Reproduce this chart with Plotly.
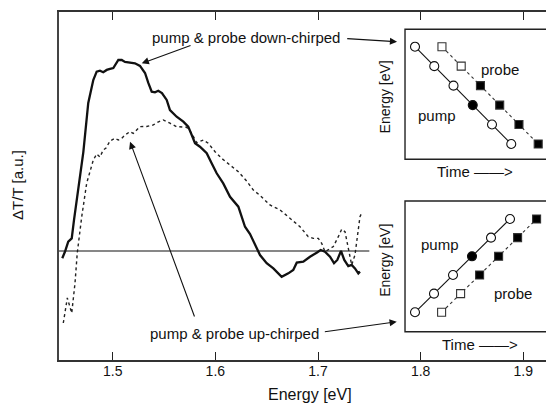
import plotly.graph_objects as go

# ---- main spectra (Energy [eV], dT/T [a.u.]) ----
down_E = [1.4509, 1.4535, 1.4567, 1.4601, 1.4623, 1.4649, 1.4681, 1.4714, 1.4762, 1.4811,
          1.4844, 1.4876, 1.4908, 1.4942, 1.4974, 1.5006, 1.5055, 1.5088, 1.5120, 1.5169,
          1.5217, 1.5266, 1.5315, 1.5347, 1.5380, 1.5412, 1.5444, 1.5480, 1.5526, 1.5558,
          1.5623, 1.5688, 1.5736, 1.5770, 1.5802, 1.5850, 1.5916, 1.5964, 1.6013, 1.6077,
          1.6143, 1.6224, 1.6289, 1.6338, 1.6386, 1.6435, 1.6500, 1.6565, 1.6646, 1.6711,
          1.6759, 1.6793, 1.6857, 1.6922, 1.6987, 1.7026, 1.7068, 1.7117, 1.7156, 1.7188,
          1.7224, 1.7256, 1.7295, 1.7328, 1.7360, 1.7393, 1.7409]
down_dT = [-0.038, -0.004, 0.049, 0.066, 0.162, 0.267, 0.372, 0.518, 0.775, 0.895,
           0.939, 0.944, 0.936, 0.948, 0.953, 0.958, 1.000, 1.000, 0.990, 0.986,
           0.983, 0.969, 0.932, 0.880, 0.834, 0.831, 0.839, 0.827, 0.791, 0.738,
           0.703, 0.677, 0.651, 0.607, 0.564, 0.546, 0.512, 0.459, 0.407, 0.354,
           0.284, 0.232, 0.127, 0.089, 0.031, -0.021, -0.064, -0.091, -0.135, -0.117,
           -0.099, -0.061, -0.056, -0.030, -0.009, 0.005, -0.004, -0.030, -0.064, -0.047,
           0.000, -0.047, -0.079, -0.073, -0.091, -0.117, -0.108]

up_E = [1.4519, 1.4558, 1.4601, 1.4633, 1.4655, 1.4698, 1.4747, 1.4811, 1.4844, 1.4876,
        1.4908, 1.4935, 1.4974, 1.5022, 1.5055, 1.5088, 1.5120, 1.5169, 1.5201, 1.5234,
        1.5266, 1.5331, 1.5396, 1.5441, 1.5493, 1.5558, 1.5623, 1.5721, 1.5770, 1.5818,
        1.5883, 1.5931, 1.5997, 1.6062, 1.6143, 1.6224, 1.6305, 1.6370, 1.6435, 1.6532,
        1.6630, 1.6727, 1.6825, 1.6905, 1.6954, 1.7003, 1.7036, 1.7068, 1.7100, 1.7149,
        1.7198, 1.7231, 1.7263, 1.7295, 1.7328, 1.7360, 1.7383, 1.7409, 1.7426]
up_dT = [-0.377, -0.246, -0.325, -0.168, -0.010, 0.178, 0.356, 0.476, 0.508, 0.492,
         0.529, 0.539, 0.576, 0.590, 0.581, 0.590, 0.607, 0.625, 0.616, 0.634,
         0.651, 0.652, 0.660, 0.675, 0.686, 0.669, 0.651, 0.648, 0.616, 0.567,
         0.581, 0.564, 0.520, 0.485, 0.450, 0.415, 0.366, 0.319, 0.291, 0.241,
         0.215, 0.171, 0.127, 0.075, 0.066, 0.066, 0.040, -0.004, 0.005, 0.023,
         0.075, 0.114, 0.101, 0.023, -0.073, -0.021, 0.075, 0.180, 0.199]

baseline_E = [1.4477, 1.75]
baseline_dT = [0, 0]

tick_vals = [1.5, 1.6, 1.7, 1.8, 1.9]
tick_text = ["1.5", "1.6", "1.7", "1.8", "1.9"]

# ---- inset schematics (time step index, energy level) ----
pump_t = [0, 1, 2, 3, 4, 5]
probe_t = [1.4, 2.4, 3.4, 4.4, 5.4, 6.4]
down_levels = [5, 4, 3, 2, 1, 0]
up_levels = [0, 1, 2, 3, 4, 5]
pump_fill = ["white", "white", "white", "black", "white", "white"]
probe_fill = ["white", "white", "black", "black", "black", "black"]

FONT = "Liberation Sans, Arial, Helvetica, sans-serif"

fig = go.Figure()

fig.add_trace(go.Scatter(x=baseline_E, y=baseline_dT, mode="lines",
                         line=dict(color="#111", width=1.2), hoverinfo="skip"))
fig.add_trace(go.Scatter(x=up_E, y=up_dT, mode="lines",
                         line=dict(color="#222", width=1.4, dash="dot")))
fig.add_trace(go.Scatter(x=down_E, y=down_dT, mode="lines",
                         line=dict(color="#111", width=2.3)))

# insets
for xa, ya, lv in (("x2", "y2", down_levels), ("x3", "y3", up_levels)):
    fig.add_trace(go.Scatter(x=pump_t, y=lv, xaxis=xa, yaxis=ya, mode="lines+markers",
                             line=dict(color="#111", width=1.1),
                             marker=dict(symbol="circle", size=9, color=pump_fill,
                                         line=dict(color="#111", width=1.1))))
    fig.add_trace(go.Scatter(x=probe_t, y=lv, xaxis=xa, yaxis=ya, mode="lines+markers",
                             line=dict(color="#333", width=1.1, dash="dot"),
                             marker=dict(symbol="square", size=8, color=probe_fill,
                                         line=dict(color="#333", width=1.1))))

top_dom = [0.5767, 0.9503]
bot_dom = [0.0813, 0.4569]
ins_x = [0.7105, 1.0]

fig.update_layout(
    width=546, height=404,
    margin=dict(l=59, r=0, t=12, b=44),
    paper_bgcolor="white", plot_bgcolor="white",
    showlegend=False,
    font=dict(family=FONT, color="#111", size=15),
    xaxis=dict(range=[1.4477, 1.9221], tickvals=tick_vals, ticktext=tick_text,
               ticks="inside", ticklen=8, tickwidth=1.3, tickcolor="#222",
               showline=True, mirror="ticks", linecolor="#333", linewidth=1.5,
               showgrid=False, zeroline=False, tickfont=dict(size=14),
               ticklabelstandoff=-3, automargin=False),
    yaxis=dict(range=[-0.5707, 1.2513], showticklabels=False, ticks="",
               showline=True, linecolor="#444", linewidth=1.5,
               showgrid=False, zeroline=False, automargin=False),
    xaxis2=dict(domain=ins_x, anchor="y2", range=[-0.519, 6.805], visible=False),
    yaxis2=dict(domain=top_dom, anchor="x2", range=[-0.786, 5.894], visible=False),
    xaxis3=dict(domain=ins_x, anchor="y3", range=[-0.526, 6.895], visible=False),
    yaxis3=dict(domain=bot_dom, anchor="x3", range=[-1.04, 5.965], visible=False),
)

# inset frames (right side runs off the page as in the original)
for dom in (top_dom, bot_dom):
    fig.add_shape(type="rect", xref="paper", yref="paper", x0=ins_x[0], x1=1.08,
                  y0=dom[0], y1=dom[1], line=dict(color="#222", width=1.4))

ann = []
# main texts
ann.append(dict(x=1.6302, y=1.1188, xref="x", yref="y", text="pump & probe down-chirped",
                showarrow=False, font=dict(size=15)))
ann.append(dict(x=1.6191, y=-0.4309, xref="x", yref="y", text="pump & probe up-chirped",
                showarrow=False, font=dict(size=15)))
# arrows
arrows = [
    (1.7770, 1.0958, 1.7270, 1.1126),
    (1.5283, 0.9827, 1.5773, 1.0785),
    (1.5169, 0.5723, 1.5802, -0.3508),
    (1.7767, -0.3702, 1.7052, -0.4241),
]
for hx, hy, tx, ty in arrows:
    ann.append(dict(x=hx, y=hy, ax=tx, ay=ty, xref="x", yref="y", axref="x", ayref="y",
                    text="", showarrow=True, arrowhead=2, arrowsize=1.3, arrowwidth=1.1,
                    arrowcolor="#111"))
# axis titles
ann.append(dict(x=-0.0842, y=0.503, xref="paper", yref="paper", text="ΔT/T [a.u.]",
                textangle=-90, showarrow=False, font=dict(size=15),
                xanchor="center", yanchor="middle"))
ann.append(dict(x=1.6922, y=-0.100, xref="x", yref="paper", text="Energy [eV]",
                showarrow=False, font=dict(size=16), xanchor="center", yanchor="middle"))
# inset texts
ann.append(dict(x=4.416, y=3.803, xref="x2", yref="y2", text="probe", showarrow=False))
ann.append(dict(x=1.127, y=1.49, xref="x2", yref="y2", text="pump", showarrow=False))
ann.append(dict(x=1.316, y=3.607, xref="x3", yref="y3", text="pump", showarrow=False))
ann.append(dict(x=5.174, y=1.018, xref="x3", yref="y3", text="probe", showarrow=False))
for yc in (0.7566, 0.287):
    ann.append(dict(x=0.6688, y=yc, xref="paper", yref="paper", text="Energy [eV]",
                    textangle=-90, showarrow=False, font=dict(size=14),
                    xanchor="center", yanchor="middle"))
ann.append(dict(x=(435 - 59) / 487, y=(360 - 171.7) / 348, xref="paper", yref="paper",
                text="Time ——>", showarrow=False, xanchor="left", yanchor="middle"))
ann.append(dict(x=(440 - 59) / 487, y=(360 - 344) / 348, xref="paper", yref="paper",
                text="Time ——>", showarrow=False, xanchor="left", yanchor="middle"))

fig.update_layout(annotations=ann)

fig.write_html("out.html", config={"displayModeBar": False},
               post_script="document.body.style.margin='0';document.body.style.overflow='hidden';")
